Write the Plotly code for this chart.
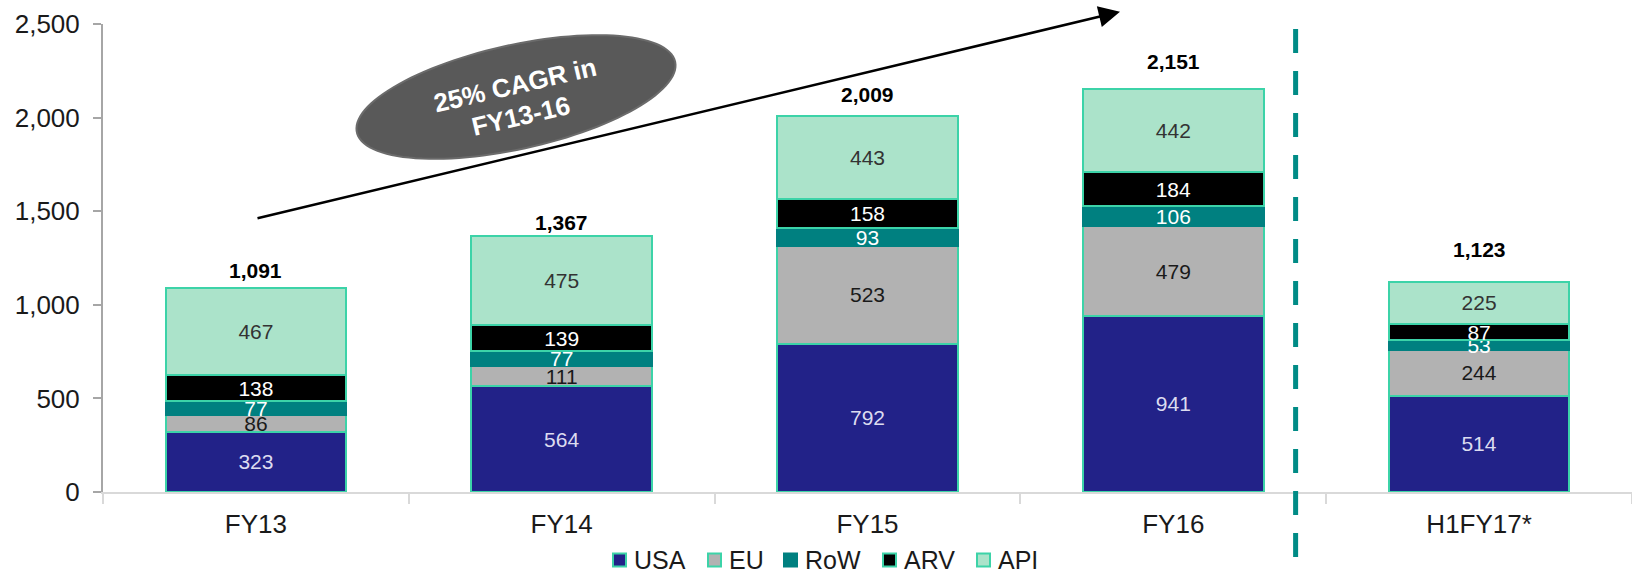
import numpy as np
import plotly.graph_objects as go

# ---------------- data ----------------
categories = ["FY13", "FY14", "FY15", "FY16", "H1FY17*"]
usa = [323, 564, 792, 941, 514]
eu = [86, 111, 523, 479, 244]
row = [77, 77, 93, 106, 53]
arv = [138, 139, 158, 184, 87]
api = [467, 475, 443, 442, 225]
totals = [1091, 1367, 2009, 2151, 1123]
total_labels = ["1,091", "1,367", "2,009", "2,151", "1,123"]
y_ticks = [0, 500, 1000, 1500, 2000, 2500]
y_tick_labels = ["0", "500", "1,000", "1,500", "2,000", "2,500"]
cagr_lines = ["25% CAGR in", "FY13-16"]

# ---------------- styles ----------------
FONT = "Liberation Sans, Arial, sans-serif"
OUTLINE = "#3CD3A8"
series = [
    ("USA", usa, "#222288", OUTLINE, "#DCDCF0"),
    ("EU", eu, "#B2B2B2", OUTLINE, "#1A1A1A"),
    ("RoW", row, "#008080", "#008080", "#FFFFFF"),
    ("ARV", arv, "#000000", OUTLINE, "#FFFFFF"),
    ("API", api, "#ABE3CA", OUTLINE, "#333333"),
]
total_shift = [17, 14, 21, 28, 32]
legend_swatch_x = [612, 707, 783, 882, 976]   # pixel left edge of legend swatches
legend_y = 560

W_FIG, H_FIG = 1632, 582
L, R, T, B = 103, 0, 24, 90
PW, PH = W_FIG - L - R, H_FIG - T - B


def px(x):
    return (x - L) / PW


def py(y):
    return (T + PH - y) / PH


fig = go.Figure()
for name, vals, fill, line, tcol in series:
    fig.add_trace(go.Bar(
        x=categories, y=vals, name=name,
        marker=dict(color=fill, line=dict(color=line, width=2)),
        text=[str(v) for v in vals], textposition="inside",
        insidetextanchor="middle", constraintext="none",
        textfont=dict(family=FONT, size=21, color=tcol),
        hoverinfo="skip", showlegend=False,
    ))

annotations = []
shapes = []
for i, (c, t, lab) in enumerate(zip(categories, totals, total_labels)):
    annotations.append(dict(
        x=c, y=t, xref="x", yref="y", text="<b>%s</b>" % lab, showarrow=False,
        yanchor="middle", yshift=total_shift[i],
        font=dict(family=FONT, size=21, color="#000000"),
    ))

# growth arrow
annotations.append(dict(
    x=px(1120), y=py(11.7), xref="paper", yref="paper", text="",
    showarrow=True, ax=256 - 1120, ay=218.6 - 11.7, axref="pixel", ayref="pixel",
    arrowhead=2, arrowsize=1.7, arrowwidth=2.5, arrowcolor="#000000",
))

# ellipse path
cx, cy, a, b, th = 516, 97, 163, 52, np.deg2rad(12.5)
tt = np.linspace(0, 2 * np.pi, 120)
ex = cx + a * np.cos(tt) * np.cos(th) + b * np.sin(tt) * np.sin(th)
ey = cy - a * np.cos(tt) * np.sin(th) + b * np.sin(tt) * np.cos(th)
path = "M " + " L ".join("%.5f,%.5f" % (px(xx), py(yy)) for xx, yy in zip(ex, ey)) + " Z"
shapes.append(dict(type="path", path=path, xref="paper", yref="paper",
                   fillcolor="#595959", line=dict(color="#6B6B6B", width=2), layer="above"))

# CAGR text, one annotation per line
for (lx, ly), txt in zip([(515, 85), (521, 116)], cagr_lines):
    annotations.append(dict(
        x=px(lx), y=py(ly), xref="paper", yref="paper", text="<b>%s</b>" % txt,
        showarrow=False, textangle=-13, xanchor="center", yanchor="middle",
        font=dict(family=FONT, size=26, color="#FFFFFF"),
    ))

# divider
shapes.append(dict(type="line", xref="x", yref="paper", x0=3.4, x1=3.4,
                   y0=py(29), y1=py(572),
                   line=dict(color="#008B86", width=5, dash="24px,18px")))

# manual legend
for (name, vals, fill, line, tcol), sx in zip(series, legend_swatch_x):
    shapes.append(dict(type="rect", xref="paper", yref="paper",
                       x0=px(sx + 1), x1=px(sx + 14), y0=py(legend_y - 6.5), y1=py(legend_y + 6.5),
                       fillcolor=fill, line=dict(color=line, width=2)))
    annotations.append(dict(x=px(sx + 20), y=py(legend_y), xref="paper", yref="paper",
                            text=name, showarrow=False, xanchor="left", yanchor="middle",
                            font=dict(family=FONT, size=25, color="#1A1A1A")))

fig.update_layout(
    template="none",
    width=W_FIG, height=H_FIG,
    margin=dict(l=L, r=R, t=T, b=B, autoexpand=False),
    barmode="stack", bargap=0.41,
    plot_bgcolor="white", paper_bgcolor="white",
    font=dict(family=FONT, size=25, color="#1A1A1A"),
    showlegend=False,
    xaxis=dict(type="category", range=[-0.5, 4.5], showline=True, linecolor="#D9D9D9",
               linewidth=2, ticks="outside", tickson="boundaries", ticklen=10,
               tickcolor="#D9D9D9", tickwidth=2, showgrid=False, zeroline=False,
               automargin=False,
               tickfont=dict(family=FONT, size=26, color="#1A1A1A"), ticklabelstandoff=8),
    yaxis=dict(range=[0, 2500], tickvals=y_ticks, ticktext=y_tick_labels, showline=True,
               linecolor="#A6A6A6", linewidth=2, ticks="outside", ticklen=8,
               tickcolor="#A6A6A6", tickwidth=2, showgrid=False, zeroline=False,
               automargin=False,
               tickfont=dict(family=FONT, size=26, color="#1A1A1A"), ticklabelstandoff=8),
    annotations=annotations,
    shapes=shapes,
)

fig.write_html("out.html", config={"displayModeBar": False},
               post_script="document.body.style.margin='0';document.body.style.padding='0';")
